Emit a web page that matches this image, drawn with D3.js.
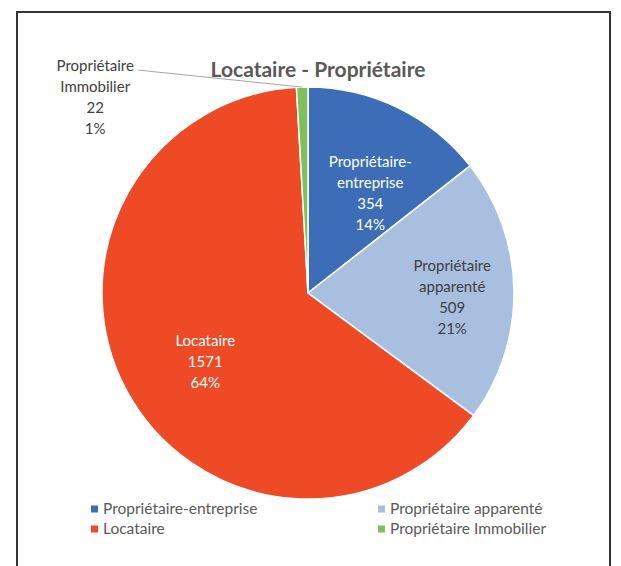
<!DOCTYPE html>
<html>
<head>
<meta charset="utf-8">
<script src="https://cdn.jsdelivr.net/npm/d3@7"></script>
<style>
  body { margin: 0; background: #fff; }
  text { font-family: Lato, "Open Sans", sans-serif; }
</style>
</head>
<body>
<div id="chart"></div>
<script>
// Declare constants
const FRAME_WIDTH = 621;
const FRAME_HEIGHT = 566;
const CENTER = {x: 308, y: 293};
const RADIUS = 206;

// Data
const categories = ["Propriétaire-entreprise", "Propriétaire apparenté", "Locataire", "Propriétaire Immobilier"];
const labelLines = [["Propriétaire-", "entreprise"], ["Propriétaire", "apparenté"], ["Locataire"], ["Propriétaire", "Immobilier"]];
const values = [354, 509, 1571, 22];
const percents = ["14%", "21%", "64%", "1%"];
const colors = ["#3d6db6", "#a8bfe0", "#ef4a26", "#80c05a"];
const labelColors = ["#ffffff", "#404040", "#ffffff", "#404040"];

// label placement (radius fraction, pixel nudge)
const labelRadius = [0.58, 0.70, 0.60, 0];
const labelNudge = [[10, 8], [0, 6], [6, 10], [0, 0]];

const svg = d3.select("#chart")
  .append("svg")
    .attr("width", FRAME_WIDTH)
    .attr("height", FRAME_HEIGHT);

// outer frame
svg.append("rect")
  .attr("x", 17).attr("y", 12)
  .attr("width", 593).attr("height", 600)
  .attr("fill", "none")
  .attr("stroke", "#333")
  .attr("stroke-width", 2);

// title
svg.append("text")
  .attr("x", 318).attr("y", 77)
  .attr("text-anchor", "middle")
  .attr("font-size", 21)
  .attr("font-weight", "bold")
  .attr("fill", "#595959")
  .text("Locataire - Propriétaire");

const pie = d3.pie().sort(null).value(d => d)(values);
const arc = d3.arc().innerRadius(0).outerRadius(RADIUS);

const g = svg.append("g").attr("transform", `translate(${CENTER.x},${CENTER.y})`);

g.selectAll("path.slice")
  .data(pie)
  .enter()
  .append("path")
    .attr("class", "slice")
    .attr("d", arc)
    .attr("fill", (d, i) => colors[i])
    .attr("stroke", "#fff")
    .attr("stroke-width", 1.5);

// labels inside slices
const LINE_H = 21;
const LABEL_FS = 15;
pie.forEach((d, i) => {
  if (labelRadius[i] === 0) return;
  const r = RADIUS * labelRadius[i];
  const c = d3.arc().innerRadius(r).outerRadius(r).centroid(d);
  const lines = labelLines[i].concat([String(values[i]), percents[i]]);
  const y0 = c[1] + labelNudge[i][1] - (lines.length - 1) * LINE_H / 2;
  const t = g.append("text")
    .attr("text-anchor", "middle")
    .attr("font-size", LABEL_FS)
    .attr("fill", labelColors[i]);
  lines.forEach((s, k) => {
    t.append("tspan")
      .attr("x", c[0] + labelNudge[i][0])
      .attr("y", y0 + k * LINE_H)
      .attr("dy", "0.35em")
      .text(s);
  });
});

// outside label for the small slice
const small = pie[3];
const midA = (small.startAngle + small.endAngle) / 2;
const edge = [RADIUS * Math.sin(midA), -RADIUS * Math.cos(midA)];
const lx = edge[0] - 207, ly = edge[1] - 21;
const smallLines = labelLines[3].concat([String(values[3]), percents[3]]);
const st = g.append("text")
  .attr("text-anchor", "middle")
  .attr("font-size", LABEL_FS)
  .attr("fill", "#404040");
smallLines.forEach((s, k) => {
  st.append("tspan")
    .attr("x", lx)
    .attr("y", ly + k * LINE_H)
    .attr("dy", "0.35em")
    .text(s);
});
g.append("line")
  .attr("x1", lx + 43).attr("y1", ly + 4)
  .attr("x2", edge[0]).attr("y2", edge[1])
  .attr("stroke", "#a6a6a6")
  .attr("stroke-width", 1);

// legend
const legendX = [91, 378];
const legendY = [509, 529];
const legend = svg.selectAll("g.legend")
  .data(categories)
  .enter()
  .append("g")
    .attr("class", "legend")
    .attr("transform", (d, i) => `translate(${legendX[i % 2]},${legendY[Math.floor(i / 2)]})`);
legend.append("rect")
  .attr("x", 0).attr("y", -3.5)
  .attr("width", 7).attr("height", 7)
  .attr("fill", (d, i) => colors[i]);
legend.append("text")
  .attr("x", 12)
  .attr("dy", "0.35em")
  .attr("font-size", 15.5)
  .attr("fill", "#595959")
  .text(d => d);
</script>
</body>
</html>
